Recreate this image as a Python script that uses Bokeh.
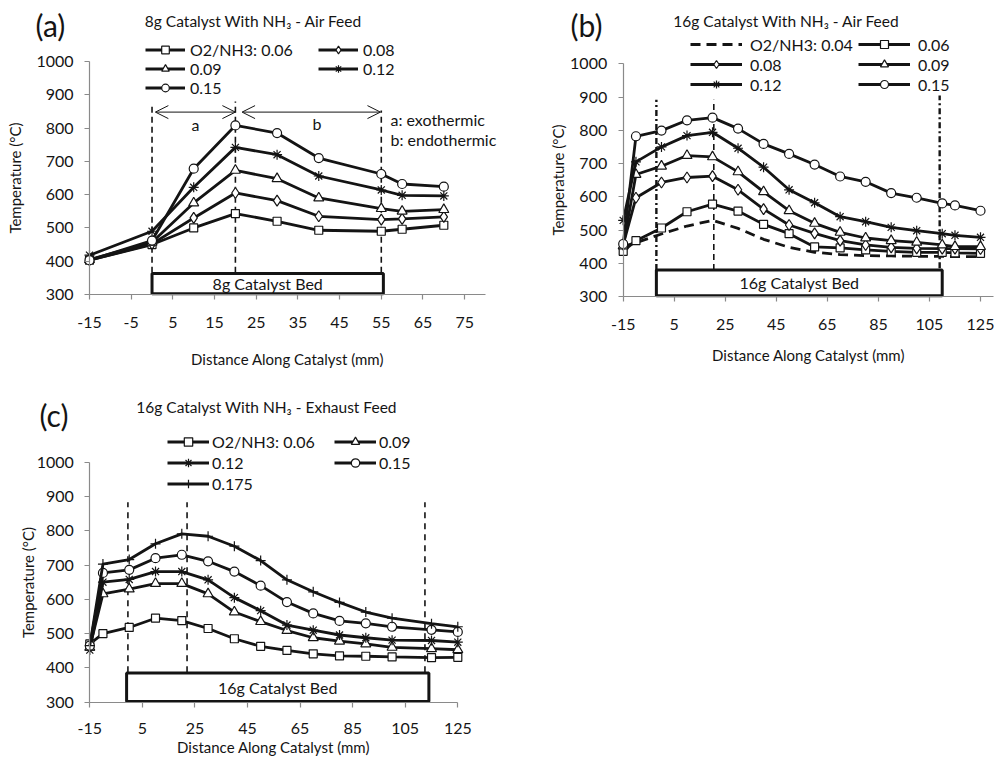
from bokeh.plotting import figure
from bokeh.models import Legend, LegendItem, Label, Arrow, OpenHead, FixedTicker
from bokeh.layouts import column, row
from bokeh.embed import file_html
from bokeh.resources import INLINE

FONT = "Lato"
INK = "#141414"
AXIS = "#8a8a8a"

# ---------------- data ----------------
y_ticks = [300, 400, 500, 600, 700, 800, 900, 1000]

# (a) 8g catalyst, NH3 - air feed
x_ticks_a = [-15, -5, 5, 15, 25, 35, 45, 55, 65, 75]
x_a = [-15, 0, 10, 20, 30, 40, 55, 60, 70]
a_006 = [403, 450, 500, 543, 520, 493, 490, 496, 508]
a_008 = [403, 452, 530, 605, 582, 535, 525, 527, 533]
a_009 = [405, 457, 575, 673, 648, 590, 558, 550, 555]
a_012 = [418, 490, 622, 742, 720, 656, 614, 598, 596]
a_015 = [403, 462, 678, 808, 785, 710, 662, 632, 624]
bed_a = [0, 55.5]
marks_a = [0, 20, 55]
marks_a_top = [868, 880, 853]

# (b) 16g catalyst, NH3 - air feed
x_ticks_b = [-15, 5, 25, 45, 65, 85, 105, 125]
x_b = [-15, -10, 0, 10, 20, 30, 40, 50, 60, 70, 80, 90, 100, 110, 115, 125]
b_004 = [450, 462, 488, 512, 529, 505, 472, 448, 433, 426, 423, 422, 421, 421, 420, 420]
b_006 = [436, 468, 506, 555, 578, 557, 517, 489, 449, 446, 440, 436, 433, 433, 431, 430]
b_008 = [456, 597, 643, 658, 662, 621, 563, 515, 490, 468, 455, 448, 445, 444, 444, 443]
b_009 = [452, 667, 692, 724, 720, 675, 615, 558, 520, 493, 476, 468, 463, 455, 450, 450]
b_012 = [529, 705, 750, 784, 794, 746, 689, 621, 582, 540, 525, 508, 498, 489, 484, 478]
b_015 = [458, 782, 799, 830, 838, 805, 759, 729, 697, 661, 645, 611, 597, 580, 574, 558]
bed_b = [-2, 110]
marks_b_dashdot = [-2, 109]
marks_b_dashdot_top = [892, 905]
marks_b_dash = [20.5]
marks_b_dash_top = [892]

# (c) 16g catalyst, NH3 - exhaust feed
x_ticks_c = [-15, 5, 25, 45, 65, 85, 105, 125]
x_c = [-15, -10, 0, 10, 20, 30, 40, 50, 60, 70, 80, 90, 100, 115, 125]
c_006 = [470, 500, 518, 545, 538, 515, 485, 463, 451, 441, 435, 434, 432, 430, 431]
c_009 = [460, 616, 630, 646, 646, 616, 563, 535, 509, 488, 478, 470, 460, 456, 453]
c_012 = [452, 650, 658, 681, 681, 657, 605, 567, 525, 510, 496, 488, 481, 480, 475]
c_015 = [465, 677, 686, 720, 730, 711, 681, 640, 592, 559, 537, 530, 520, 511, 505]
c_0175 = [465, 703, 716, 762, 791, 784, 755, 713, 657, 622, 591, 563, 545, 529, 520]
bed_c = [-1, 114]
marks_c = [-0.5, 22, 112.5]
marks_c_top = [883, 883, 883]


def span(v0, v1, p0, p1, size):
    """Range whose values v0, v1 fall at canvas pixels p0, p1 (canvas of given size)."""
    k = (v1 - v0) / (p1 - p0)
    return (v0 - p0 * k, v0 + (size - p0) * k)


def base(width, height, xr, yr, xticks, xbounds, xstand, xlab_stand, ylab_stand):
    p = figure(width=width, height=height, x_range=xr, y_range=yr,
               output_backend="svg", toolbar_location=None, min_border=0)
    p.grid.visible = False
    p.outline_line_color = None
    p.xaxis.ticker = FixedTicker(ticks=xticks)
    p.yaxis.ticker = FixedTicker(ticks=y_ticks)
    p.xaxis.major_label_overrides = {t: str(t) for t in xticks}
    p.xaxis.fixed_location = 300
    p.yaxis.fixed_location = -15
    p.xaxis.bounds = xbounds
    p.yaxis.bounds = (300, 1000)
    for ax in (p.xaxis[0], p.yaxis[0]):
        ax.axis_line_color = AXIS
        ax.axis_line_width = 1.2
        ax.major_tick_line_color = AXIS
        ax.major_tick_line_width = 1.2
        ax.major_tick_out = 5
        ax.major_tick_in = 0
        ax.minor_tick_line_color = None
        ax.major_label_text_font = FONT
        ax.major_label_text_font_size = "16px"
        ax.major_label_text_color = INK
        ax.axis_label_text_font = FONT
        ax.axis_label_text_font_size = "15px"
        ax.axis_label_text_font_style = "normal"
        ax.axis_label_text_color = INK
    p.xaxis.axis_label = "Distance Along Catalyst (mm)"
    p.yaxis.axis_label = "Temperature (°C)"
    p.xaxis.major_label_standoff = xstand
    p.xaxis.axis_label_standoff = xlab_stand
    p.yaxis.major_label_standoff = 11
    p.yaxis.axis_label_standoff = ylab_stand
    return p


def series(p, x, y, marker, size=9, dash="solid"):
    rs = [p.line(x, y, line_width=2.8, line_color=INK, line_dash=dash)]
    if marker:
        rs.append(p.scatter(x, y, marker=marker, size=size, fill_color="white",
                            line_color=INK, line_width=1.2))
    return rs


def legend(p, items, loc, gw, gh, lw, ls):
    # Bokeh fills legend columns first; items are passed column by column
    lg = Legend(items=[LegendItem(label=t, renderers=r) for t, r in items],
                ncols=2, location=loc, glyph_width=gw, glyph_height=gh,
                label_height=gh, label_width=lw, label_standoff=ls,
                spacing=0, padding=0, margin=0, border_line_color=None,
                background_fill_alpha=0, label_text_font=FONT,
                label_text_font_size="16px", label_text_color=INK)
    p.add_layout(lg)


def text(p, x, y, t, size="16px", align="left", units="data"):
    p.add_layout(Label(x=x, y=y, x_units=units, y_units=units, text=t,
                       text_font=FONT, text_font_size=size, text_color=INK,
                       text_align=align, text_baseline="middle"))


def bed(p, sp, top, label):
    p.quad(left=[sp[0]], right=[sp[1]], bottom=[302], top=[top],
           fill_color="white", line_color=INK, line_width=3)
    text(p, (sp[0] + sp[1]) / 2, (302 + top) / 2, label, align="center")


# ---------------- panel (a) ----------------
WA, HA = 500, 375
pa = base(WA, HA, span(-15, 80, 89, 485, WA), span(300, 1000, HA - 294, HA - 61, HA),
          x_ticks_a, (-15, 80), 17, 19, 9)
pa.segment(x0=marks_a, y0=[365] * 3, x1=marks_a, y1=marks_a_top,
           line_dash="6 4", line_width=1.6, line_color=INK)
bed(pa, bed_a, 363, "8g Catalyst Bed")
ra = {k: r for k, r in [
    ("0.06", series(pa, x_a, a_006, "square", 8)),
    ("0.08", series(pa, x_a, a_008, "diamond", 11)),
    ("0.09", series(pa, x_a, a_009, "triangle", 10)),
    ("0.12", series(pa, x_a, a_012, "asterisk", 10)),
    ("0.15", series(pa, x_a, a_015, "circle", 9))]}
legend(pa, [("O2/NH3: 0.06", ra["0.06"]), ("0.09", ra["0.09"]), ("0.15", ra["0.15"]),
            ("0.08", ra["0.08"]), ("0.12", ra["0.12"])], (145, HA - 97), 40, 19, 128, 5)
for xs, xe in [(0.8, 20), (21.6, 54.8)]:
    pa.add_layout(Arrow(x_start=xs, y_start=848, x_end=xe, y_end=848,
                        line_width=1, line_color=INK,
                        start=OpenHead(size=13, line_width=1, line_color=INK),
                        end=OpenHead(size=13, line_width=1, line_color=INK)))
text(pa, 10.4, 810, "a", align="center")
text(pa, 39.6, 815, "b", align="center")
text(pa, 57.2, 826, "a: exothermic")
text(pa, 57.2, 765, "b: endothermic")
text(pa, 35, HA - 24, "(a)", size="30px", units="screen")
text(pa, 255, HA - 20, "8g Catalyst  With NH₃ - Air Feed", size="15.5px", align="center", units="screen")

# ---------------- panel (b) ----------------
WB, HB = 494, 375
pb = base(WB, HB, span(-15, 125, 122.7, 480, WB), span(300, 1000, HB - 296, HB - 63.3, HB),
          x_ticks_b, (-15, 130), 17, 13, 0)
pb.segment(x0=marks_b_dashdot, y0=[380, 385], x1=marks_b_dashdot, y1=marks_b_dashdot_top,
           line_dash="6 3 2 3", line_width=2.4, line_color=INK)
pb.segment(x0=marks_b_dash, y0=[380], x1=marks_b_dash, y1=marks_b_dash_top,
           line_dash="6 4", line_width=1.6, line_color=INK)
bed(pb, bed_b, 380, "16g Catalyst Bed")
rb = {k: r for k, r in [
    ("0.04", series(pb, x_b, b_004, None, dash="10 6")),
    ("0.06", series(pb, x_b, b_006, "square", 8)),
    ("0.08", series(pb, x_b, b_008, "diamond", 11)),
    ("0.09", series(pb, x_b, b_009, "triangle", 10)),
    ("0.12", series(pb, x_b, b_012, "asterisk", 10)),
    ("0.15", series(pb, x_b, b_015, "circle", 9))]}
legend(pb, [("O2/NH3: 0.04", rb["0.04"]), ("0.08", rb["0.08"]), ("0.12", rb["0.12"]),
            ("0.06", rb["0.06"]), ("0.09", rb["0.09"]), ("0.15", rb["0.15"])],
       (190, HB - 94), 52, 20, 108, 8)
text(pb, 70, HB - 24, "(b)", size="30px", units="screen")
text(pb, 288, HB - 20, "16g Catalyst  With NH₃ - Air Feed", size="15.5px", align="center", units="screen")

# ---------------- panel (c) ----------------
WC, HC = 500, 384
pc = base(WC, HC, span(-15, 125, 89.3, 457.3, WC), span(300, 1000, HC - 326.7, HC - 86.7, HC),
          x_ticks_c, (-15, 125), 16, 0, -4)
pc.segment(x0=marks_c, y0=[387] * 3, x1=marks_c, y1=marks_c_top,
           line_dash="6 5", line_width=1.6, line_color=INK)
bed(pc, bed_c, 385, "16g Catalyst Bed")
rc = {k: r for k, r in [
    ("0.06", series(pc, x_c, c_006, "square", 8)),
    ("0.09", series(pc, x_c, c_009, "triangle", 10)),
    ("0.12", series(pc, x_c, c_012, "asterisk", 10)),
    ("0.15", series(pc, x_c, c_015, "circle", 9)),
    ("0.175", series(pc, x_c, c_0175, "cross", 10))]}
legend(pc, [("O2/NH3: 0.06", rc["0.06"]), ("0.12", rc["0.12"]), ("0.175", rc["0.175"]),
            ("0.09", rc["0.09"]), ("0.15", rc["0.15"])], (167, HC - 118.7), 42, 21, 122, 3)
text(pc, 39, HC - 39, "(c)", size="30px", units="screen")
text(pc, 266, HC - 31, "16g Catalyst With NH₃ - Exhaust Feed", size="15.5px", align="center", units="screen")

layout = column(row(pa, pb), pc)
open("out.html", "w").write(file_html(layout, INLINE))
